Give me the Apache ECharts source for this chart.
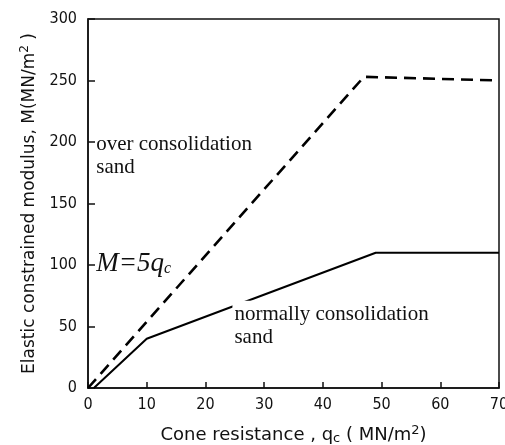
<!DOCTYPE html>
<html><head><meta charset="utf-8">
<script src="https://cdn.jsdelivr.net/npm/echarts@6/dist/echarts.min.js"></script>
<style>html,body{margin:0;padding:0;background:#fff}#c{width:505px;height:445px}</style>
</head><body><div id="c"></div>
<script>
// Over-consolidated sand (dashed)
const overX = [0, 47, 70];
const overY = [0, 253, 250];
// Normally consolidated sand (solid)
const normX = [1, 10, 49, 70];
const normY = [0, 40, 110, 110];
// Axis ticks
const xTicks = [0, 10, 20, 30, 40, 50, 60, 70];
const yTicks = [0, 50, 100, 150, 200, 250, 300];
// Annotation anchors (data coords) and texts
const annOver = { x: 1.4, y: 207, lines: ['over consolidation', 'sand'] };
const annEq = { x: 1.4, y: 112 };
const annNorm = { x: 24.6, y: 71, lines: ['normally consolidation', 'sand'] };

const chart = echarts.init(document.getElementById('c'));
const axisFont = '"DejaVu Sans Condensed", "DejaVu Sans", sans-serif';
const nameFont = '"DejaVu Sans", sans-serif';
const serif = '"Liberation Serif", "DejaVu Serif", serif';
chart.setOption({
  animation: false,
  grid: { left: 88, right: 6, top: 19, bottom: 57, containLabel: false, outerBoundsMode: 'none',
    show: true, borderColor: '#111', borderWidth: 1.5 },
  xAxis: {
    type: 'value', min: 0, max: 70, interval: 10,
    axisLine: { lineStyle: { color: '#111', width: 1.5 } },
    axisTick: { inside: true, length: 6, lineStyle: { color: '#111', width: 1.5 } },
    splitLine: { show: false },
    axisLabel: { color: '#111', fontSize: 16, fontFamily: axisFont, margin: 9,
      formatter: v => xTicks.includes(v) ? String(v) : '' },
    name: '{a|Cone resistance , q}{s|c}{a| ( MN/m}{p|2}{a|)}',
    nameLocation: 'middle', nameGap: 36,
    nameTextStyle: { rich: {
      a: { fontSize: 18, fontFamily: nameFont, color: '#111' },
      s: { fontSize: 13, fontFamily: nameFont, color: '#111', padding: [8, 0, 0, 0] },
      p: { fontSize: 13, fontFamily: nameFont, color: '#111', padding: [0, 0, 9, 0] }
    } }
  },
  yAxis: {
    type: 'value', min: 0, max: 300, interval: 50,
    axisLine: { lineStyle: { color: '#111', width: 1.5 } },
    axisTick: { inside: true, length: 7, lineStyle: { color: '#111', width: 1.5 } },
    splitLine: { show: false },
    axisLabel: { color: '#111', fontSize: 16, fontFamily: axisFont, margin: 11,
      formatter: v => yTicks.includes(v) ? String(v) : '' },
    name: '{a|Elastic constrained modulus, M(MN/m}{p|2}{a| )}',
    nameLocation: 'middle', nameGap: 48, nameRotate: 90,
    nameTextStyle: { rich: {
      a: { fontSize: 17, fontFamily: nameFont, color: '#111' },
      p: { fontSize: 12, fontFamily: nameFont, color: '#111', padding: [0, 0, 9, 0] }
    } }
  },
  series: [
    { type: 'line', data: overX.map((x, i) => [x, overY[i]]), symbol: 'none',
      lineStyle: { color: '#000', width: 2.6, type: [12, 7] }, z: 3 },
    { type: 'line', data: normX.map((x, i) => [x, normY[i]]), symbol: 'none',
      lineStyle: { color: '#000', width: 2 }, z: 3 }
  ]
});

const p1 = chart.convertToPixel({ gridIndex: 0 }, [annOver.x, annOver.y]);
const p2 = chart.convertToPixel({ gridIndex: 0 }, [annEq.x, annEq.y]);
const p3 = chart.convertToPixel({ gridIndex: 0 }, [annNorm.x, annNorm.y]);
chart.setOption({
  graphic: [
    { type: 'text', left: p1[0], top: p1[1], z: 10,
      style: { text: annOver.lines.join('\n'), font: '21px ' + serif, fill: '#111', lineHeight: 23 } },
    { type: 'text', left: p2[0], top: p2[1], z: 10,
      style: { text: '{m|M=5q}{c|c}', fill: '#111',
        rich: { m: { fontSize: 27, fontStyle: 'italic', fontFamily: serif, fill: '#111' },
                c: { fontSize: 16, fontStyle: 'italic', fontFamily: serif, fill: '#111', padding: [11, 0, 0, 0] } } } },
    { type: 'text', left: p3[0], top: p3[1], z: 10,
      style: { text: annNorm.lines.join('\n'), font: '21px ' + serif, fill: '#111', lineHeight: 23,
        backgroundColor: '#fff', padding: [2, 0, 0, 2] } }
  ]
});
</script></body></html>
